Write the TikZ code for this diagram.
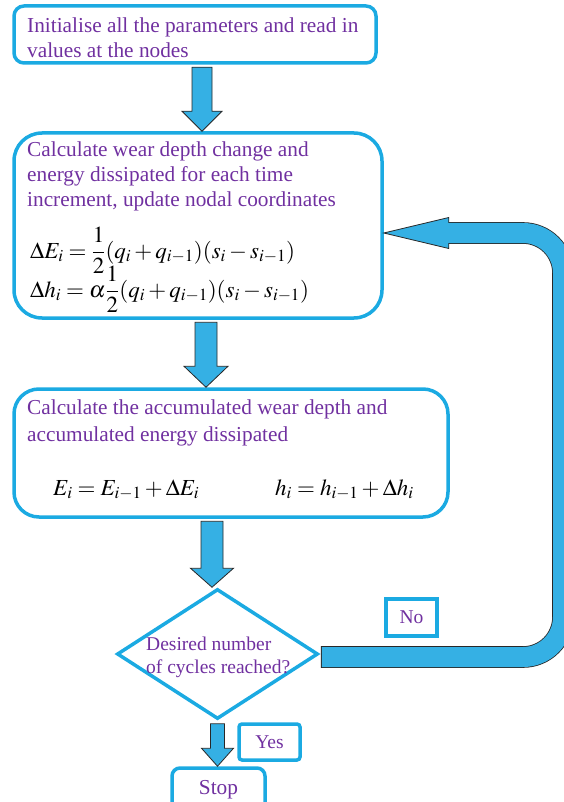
\documentclass[tikz,border=0pt]{standalone}
\usepackage{mathptmx}
\usepackage{fontspec}
\setmainfont{Liberation Serif}
\usetikzlibrary{shapes.geometric,calc}
\definecolor{boxblue}{RGB}{27,170,226}
\definecolor{arrowblue}{RGB}{53,176,228}
\definecolor{txtpurple}{RGB}{112,48,160}
\definecolor{edgegray}{RGB}{40,40,40}
\tikzset{
  box/.style={draw=boxblue,line width=3.5pt,inner sep=0pt,text=txtpurple},
  txt/.style={text=txtpurple,align=left,inner sep=0pt,anchor=north west,font=\fontsize{21.3}{25}\selectfont},
  eqn/.style={inner sep=0pt,anchor=base west,font=\fontsize{23}{27}\selectfont},
  arrowbody/.style={fill=arrowblue,draw=edgegray,line width=0.8pt,line join=miter},
}
\newcommand{\blockarrow}[5]{%
  \draw[arrowbody] let \p1=(#1), \p2=(#2) in
    (\x1-#3pt,\y1) -- (\x1-#3pt,\y2+#5pt) -- (\x1-#4pt,\y2+#5pt) -- (\x1,\y2)
    -- (\x1+#4pt,\y2+#5pt) -- (\x1+#3pt,\y2+#5pt) -- (\x1+#3pt,\y1) -- cycle;}
\begin{document}
\begin{tikzpicture}[x=1pt,y=-1pt]
  \useasboundingbox (0,0) rectangle (563,802);

  \node[box,rounded corners=10pt,minimum width=362pt,minimum height=57pt] (init) at (195,34.5) {};
  \node[box,rounded corners=28pt,minimum width=368pt,minimum height=185pt] (calc) at (198,225.5) {};
  \node[box,rounded corners=25pt,minimum width=434pt,minimum height=128pt] (accum) at (231,453) {};
  \node[box,diamond,minimum width=201pt,minimum height=130pt] (decision) at (217.5,654) {};
  \node[box,rounded corners=3pt,minimum width=61pt,minimum height=36pt,font=\fontsize{19.5}{23}\selectfont] (yes) at (269.5,742) {Yes};
  \node[box,minimum width=51pt,minimum height=37pt,font=\fontsize{19.5}{23}\selectfont] (no) at (411.5,617.5) {No};
  \node[box,rounded corners=8pt,minimum width=93pt,minimum height=44pt,font=\fontsize{21.3}{25}\selectfont] (stop) at (218.5,790) {Stop};

  \node[txt] (inittxt) at (27,18) {Initialise all the parameters and read in\\values at the nodes};
  \node[txt] (calctxt) at (27,142) {Calculate wear depth change and\\energy dissipated for each time\\increment, update nodal coordinates};
  \node[eqn] (dE) at (30,258) {$\displaystyle \Delta E_i=\frac{1}{2}(q_i+q_{i-1})(s_i-s_{i-1})$};
  \node[eqn] (dh) at (30,297) {$\displaystyle \Delta h_i=\alpha\frac{1}{2}(q_i+q_{i-1})(s_i-s_{i-1})$};
  \node[txt,font=\fontsize{21.3}{27}\selectfont] (accumtxt) at (27,400) {Calculate the accumulated wear depth and\\accumulated energy dissipated};
  \node[eqn] (E) at (53,495) {$E_i=E_{i-1}+\Delta E_i$};
  \node[eqn] (h) at (275,495) {$h_i=h_{i-1}+\Delta h_i$};
  \node[txt,font=\fontsize{19.5}{23}\selectfont] (decisiontxt) at (146,637) {Desired number\\of cycles reached?};

  \coordinate (a1) at ([xshift=7pt,yshift=-2.5pt]init.south);
  \coordinate (a2) at ([xshift=8pt,yshift=-2.5pt]calc.south);
  \coordinate (a3) at ([xshift=-19pt,yshift=-2.5pt]accum.south);
  \coordinate (a4) at ([yshift=-3pt]decision.south);
  \blockarrow{a1}{a1 |- calc.north}{10}{20}{20}
  \blockarrow{a2}{a2 |- accum.north}{11}{22}{21}
  \blockarrow{a3}{a3 |- decision.north}{11}{21.5}{19}
  \blockarrow{a4}{a4 |- stop.north}{7}{16}{18}

  \coordinate (lp1) at ([xshift=2pt,yshift=-3pt]decision.east);
  \coordinate (lp2) at ([yshift=-7.5pt]calc.east);
  \coordinate (lpx) at (563,0);
  \draw[line width=21.6pt,edgegray,rounded corners=40pt] ([xshift=-0.8pt]lp1) -- (lp1 -| lpx) -- (lp2 -| lpx) -- ([xshift=65pt]lp2);
  \draw[line width=20pt,arrowblue,rounded corners=40pt] (lp1) -- (lp1 -| lpx) -- (lp2 -| lpx) -- ([xshift=65pt]lp2);
  \fill[arrowblue] (lp2) -- ([xshift=65pt,yshift=15.5pt]lp2) -- ([xshift=65pt,yshift=-15.5pt]lp2) -- cycle;
  \draw[edgegray,line width=0.8pt] ([xshift=65pt,yshift=10pt]lp2) -- ([xshift=65pt,yshift=15.5pt]lp2) -- (lp2)
    -- ([xshift=65pt,yshift=-15.5pt]lp2) -- ([xshift=65pt,yshift=-10pt]lp2);
\end{tikzpicture}
\end{document}
